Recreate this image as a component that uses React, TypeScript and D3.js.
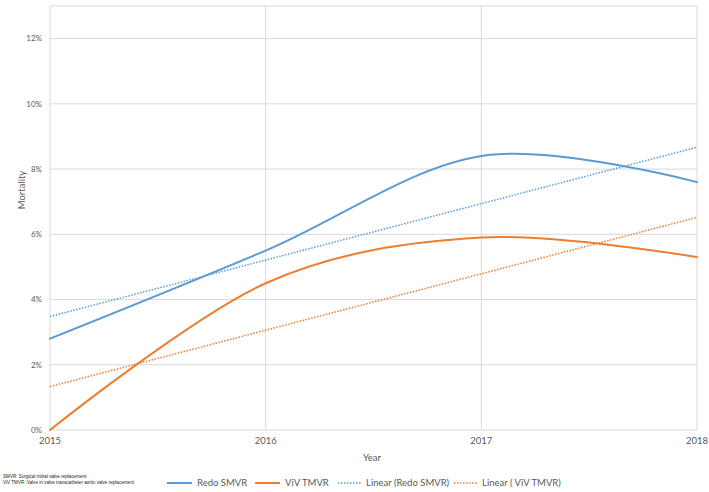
import React from "react";
import * as d3 from "d3";

const years = [2015, 2016, 2017, 2018];
const redoSMVR = [2.8, 5.5, 8.4, 7.6];
const vivTMVR = [0, 4.5, 5.9, 5.3];
const yTicks = [0, 2, 4, 6, 8, 10, 12];
const xTicks = [2015, 2016, 2017, 2018];
const seriesNames = ["Redo SMVR", "ViV TMVR", "Linear (Redo SMVR)", "Linear ( ViV TMVR)"];
const footnotes = [
  "SMVR: Surgical mitral valve replacement",
  "ViV TMVR: Valve in valve transcatheter aortic valve replacement",
];

const BLUE = "#5B9BD5";
const ORANGE = "#ED7D31";
const GRID = "#D9D9D9";
const TEXT = "#595959";
const FONT = "Lato, 'Open Sans', sans-serif";

function linreg(xs: number[], ys: number[]) {
  const mx = d3.mean(xs)!;
  const my = d3.mean(ys)!;
  let sxy = 0, sxx = 0;
  xs.forEach((x, i) => {
    sxy += (x - mx) * (ys[i] - my);
    sxx += (x - mx) * (x - mx);
  });
  const b = sxy / sxx;
  const a = my - b * mx;
  return (x: number) => a + b * x;
}

export default function App() {
  const W = 709, H = 492;
  const left = 50, right = 697, top = 6, bottom = 430;
  const x = d3.scaleLinear().domain([2015, 2018]).range([left, right]);
  const y = d3.scaleLinear().domain([0, 13]).range([bottom, top]);

  const line = d3
    .line<number>()
    .x((_, i) => x(years[i]))
    .y((d) => y(d))
    .curve(d3.curveCardinal.tension(0));

  const redoFit = linreg(years, redoSMVR);
  const vivFit = linreg(years, vivTMVR);
  const ends = [2015, 2018];

  const legend = [
    { name: seriesNames[0], color: BLUE, dash: false, x0: 167 },
    { name: seriesNames[1], color: ORANGE, dash: false, x0: 255 },
    { name: seriesNames[2], color: BLUE, dash: true, x0: 338 },
    { name: seriesNames[3], color: ORANGE, dash: true, x0: 454 },
  ];

  return (
    <svg
      width={W}
      height={H}
      style={{ position: "absolute", left: 0, top: 0, background: "#fff" }}
      fontFamily={FONT}
    >
      <rect x={0} y={0} width={W} height={H} fill="#fff" />
      {/* grid */}
      {yTicks.map((t) => (
        <line key={"h" + t} x1={left} x2={right} y1={y(t)} y2={y(t)} stroke={GRID} strokeWidth={1} />
      ))}
      {xTicks.map((t) => (
        <line key={"v" + t} x1={x(t)} x2={x(t)} y1={top} y2={bottom} stroke={GRID} strokeWidth={1} />
      ))}
      <line x1={left} x2={right} y1={top} y2={top} stroke={GRID} strokeWidth={1} />

      {/* y tick labels */}
      {yTicks.map((t) => (
        <text key={"yl" + t} x={42} y={y(t)} dy="0.35em" textAnchor="end" fontSize={8} fill={TEXT}>
          {t + "%"}
        </text>
      ))}
      {/* x tick labels */}
      {xTicks.map((t) => (
        <text key={"xl" + t} x={x(t)} y={444} textAnchor="middle" fontSize={9.5} fill={TEXT}>
          {t}
        </text>
      ))}
      <text x={372} y={461} textAnchor="middle" fontSize={9.5} fill={TEXT}>
        Year
      </text>
      <text
        transform={`translate(25,190) rotate(-90)`}
        textAnchor="middle"
        fontSize={9.5}
        fill={TEXT}
      >
        Mortality
      </text>

      {/* trend lines */}
      <path
        d={d3.line<number>().x((d) => x(d)).y((d) => y(redoFit(d)))(ends)!}
        fill="none"
        stroke={BLUE}
        strokeWidth={1.5}
        strokeDasharray="1.5 1.5"
      />
      <path
        d={d3.line<number>().x((d) => x(d)).y((d) => y(vivFit(d)))(ends)!}
        fill="none"
        stroke={ORANGE}
        strokeWidth={1.5}
        strokeDasharray="1.5 1.5"
      />

      {/* series */}
      <path d={line(redoSMVR)!} fill="none" stroke={BLUE} strokeWidth={2} strokeLinecap="round" />
      <path d={line(vivTMVR)!} fill="none" stroke={ORANGE} strokeWidth={2} strokeLinecap="round" />

      {/* legend */}
      {legend.map((l) => (
        <g key={l.name}>
          <line
            x1={l.x0}
            x2={l.x0 + (l.dash ? 24 : 25)}
            y1={483}
            y2={483}
            stroke={l.color}
            strokeWidth={l.dash ? 1.5 : 2}
            strokeDasharray={l.dash ? "1.5 1.5" : undefined}
          />
          <text x={l.x0 + (l.dash ? 28 : 30)} y={483} dy="0.35em" fontSize={9.5} fill={TEXT}>
            {l.name}
          </text>
        </g>
      ))}

      {/* footnotes */}
      {footnotes.map((f, i) => (
        <text key={i} x={3} y={478 + i * 5.5} fontSize={4.6} fill="#222" fontFamily="Arial, 'Liberation Sans', sans-serif">
          {f}
        </text>
      ))}
    </svg>
  );
}
